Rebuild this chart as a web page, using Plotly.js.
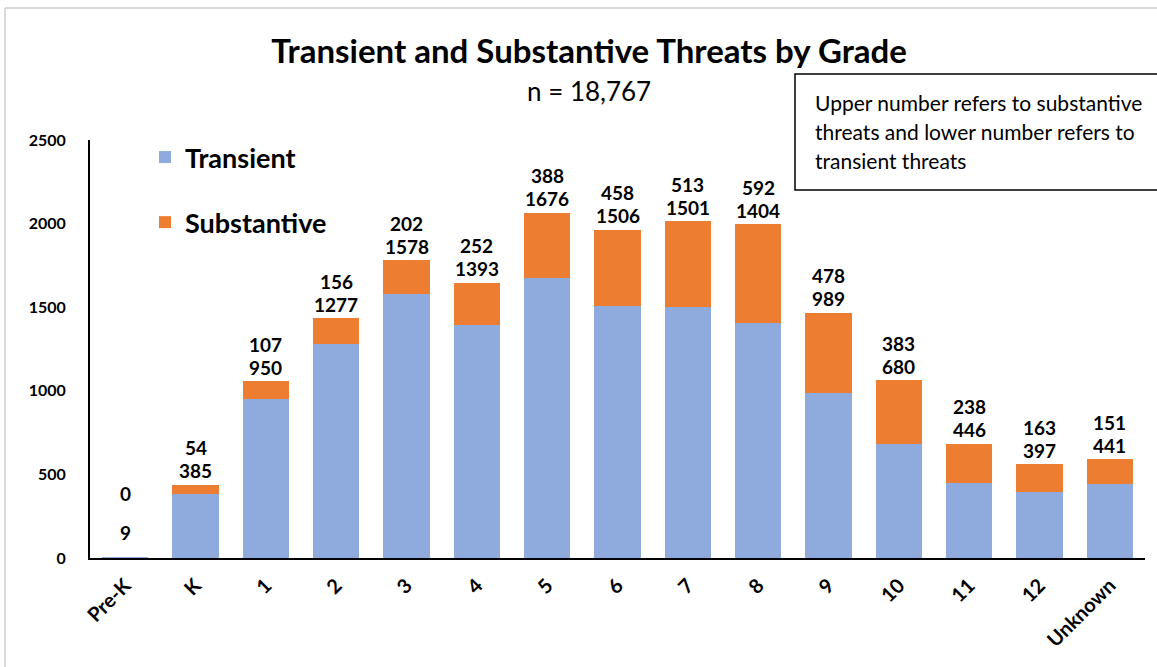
<!DOCTYPE html>
<html>
<head>
<meta charset="utf-8">
<script src="https://cdn.plot.ly/plotly-3.0.1.min.js"></script>
<style>html,body{margin:0;padding:0;background:#fff;}#chart{width:1157px;height:667px;}</style>
</head>
<body>
<div id="chart"></div>
<script>
const grades = ["Pre-K","K","1","2","3","4","5","6","7","8","9","10","11","12","Unknown"];
const transient = [9,385,950,1277,1578,1393,1676,1506,1501,1404,989,680,446,397,441];
const substantive = [0,54,107,156,202,252,388,458,513,592,478,383,238,163,151];
const yTicks = [0,500,1000,1500,2000,2500];
const titleText = "Transient and Substantive Threats by Grade";
const subtitleText = "n = 18,767";
const noteLines = ["Upper number refers to substantive","threats and lower number refers to","transient threats"];

const FONT = "Lato, 'Open Sans', sans-serif";
const W = 1157, H = 667, L = 90, R = 12, T = 140, B = 109;
const pw = W - L - R, ph = H - T - B;
const px2x = p => (p - L) / pw;
const py2y = p => (H - B - p) / ph;

const traces = [
  {type:"bar", name:"Transient", x:grades, y:transient, marker:{color:"#8FAADC"}, legendgroup:"a", hoverinfo:"x+y"},
  {type:"bar", name:"Substantive", x:grades, y:substantive, marker:{color:"#ED7D31"}, legendgroup:"b", hoverinfo:"x+y"}
];

const annotations = [];
grades.forEach((g, i) => {
  const total = transient[i] + substantive[i];
  const small = total < 50;
  annotations.push({x:i, y:total, xref:"x", yref:"y", text:String(transient[i]), showarrow:false,
    yanchor:"middle", yshift: small ? 24 : 14, font:{family:FONT, size:19, color:"#000", weight:700}});
  annotations.push({x:i, y:total, xref:"x", yref:"y", text:String(substantive[i]), showarrow:false,
    yanchor:"middle", yshift: small ? 63 : 37, font:{family:FONT, size:19, color:"#000", weight:700}});
});
annotations.push({xref:"paper", yref:"paper", x:px2x(589), y:py2y(91), text:subtitleText, showarrow:false,
  xanchor:"center", yanchor:"middle", font:{family:FONT, size:26, color:"#000"}});
noteLines.forEach((t, k) => {
  annotations.push({xref:"paper", yref:"paper", x:px2x(813), y:py2y(102 + 29*k), text:t, showarrow:false,
    xanchor:"left", yanchor:"middle", font:{family:FONT, size:21, color:"#000"}});
});

const shapes = [
  {type:"rect", xref:"paper", yref:"paper", x0:px2x(795), x1:px2x(1170), y0:py2y(190), y1:py2y(74),
   line:{color:"#000", width:1.5}, fillcolor:"rgba(0,0,0,0)"},
  {type:"line", xref:"paper", yref:"paper", x0:px2x(5), x1:px2x(5), y0:py2y(8), y1:py2y(680), line:{color:"#d9d9d9", width:2}},
  {type:"line", xref:"paper", yref:"paper", x0:px2x(5), x1:px2x(1170), y0:py2y(8), y1:py2y(8), line:{color:"#d9d9d9", width:2}}
];

const layout = {
  width:W, height:H,
  margin:{l:L, r:R, t:T, b:B, pad:0},
  paper_bgcolor:"#fff", plot_bgcolor:"#fff",
  barmode:"stack", bargap:0.34,
  font:{family:FONT, color:"#000"},
  title:{text:titleText, x:589/W, xanchor:"center", y:1-51/H, yanchor:"middle",
    font:{family:FONT, size:33, color:"#000", weight:700}},
  xaxis:{type:"category", showline:true, linecolor:"#000", linewidth:2, ticks:"", tickangle:-45,
    ticklabelstandoff:6,
    tickfont:{family:FONT, size:20, color:"#000", weight:700}, showgrid:false, zeroline:false, fixedrange:true},
  yaxis:{range:[0,2500], tickvals:yTicks, ticktext:yTicks.map(String), showline:true, linecolor:"#000", linewidth:2,
    ticks:"", ticklabelstandoff:19, tickfont:{family:FONT, size:16, color:"#000", weight:700},
    showgrid:false, zeroline:false, fixedrange:true},
  showlegend:true,
  legend:{x:px2x(145), y:py2y(133), xanchor:"left", yanchor:"top", traceorder:"grouped", tracegroupgap:27,
    font:{family:FONT, size:27, color:"#000", weight:700}, bgcolor:"rgba(0,0,0,0)", itemwidth:30},
  annotations, shapes
};

Plotly.newPlot("chart", traces, layout, {displayModeBar:false, staticPlot:true});
</script>
</body>
</html>
